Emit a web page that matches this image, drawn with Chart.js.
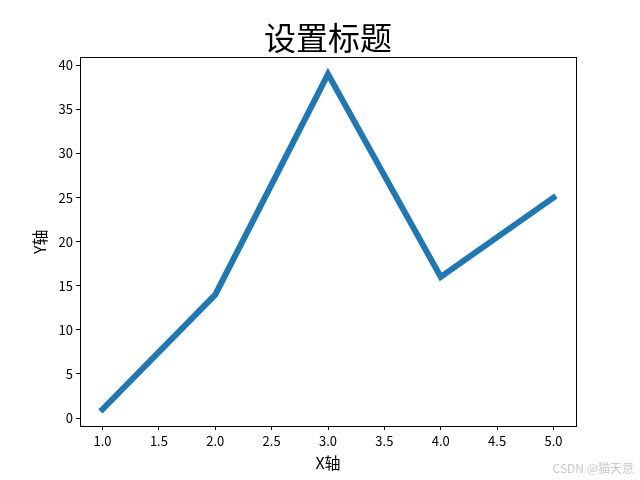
<!DOCTYPE html>
<html>
<head>
<meta charset="utf-8">
<script src="https://cdn.jsdelivr.net/npm/chart.js@4/dist/chart.umd.min.js"></script>
<style>
  html, body { margin: 0; padding: 0; background: #fff; }
  #wrap { width: 640px; height: 480px; }
</style>
</head>
<body>
<div id="wrap"><canvas id="c" width="640" height="480"></canvas></div>
<script>
const xValues = [1, 2, 3, 4, 5];
const yValues = [1, 14, 39, 16, 25];
const xTicks = [1.0, 1.5, 2.0, 2.5, 3.0, 3.5, 4.0, 4.5, 5.0];
const yTicks = [0, 5, 10, 15, 20, 25, 30, 35, 40];

const CJK = "'Noto Sans CJK SC', 'DejaVu Sans', sans-serif";
const TICK_FONT = "'Liberation Sans Narrow', 'Noto Sans CJK SC', sans-serif";

// Frame around the plot area + watermark
const framePlugin = {
    id: 'frame',
    afterDraw(chart) {
        const { ctx, chartArea: a } = chart;
        ctx.save();
        ctx.strokeStyle = '#000';
        ctx.lineWidth = 1;
        ctx.strokeRect(Math.round(a.left) + 0.5, Math.round(a.top) + 0.5,
            Math.round(a.right - a.left), Math.round(a.bottom - a.top));
        ctx.fillStyle = '#c8c8c8';
        ctx.font = "12px " + CJK;
        ctx.textAlign = 'right';
        ctx.textBaseline = 'middle';
        ctx.fillText('CSDN @猫天意', 634, 468);
        ctx.restore();
    }
};

new Chart(document.getElementById('c'), {
    type: 'line',
    data: {
        datasets: [{
            data: xValues.map((x, i) => ({ x, y: yValues[i] })),
            borderColor: '#1f77b4',
            borderWidth: 6,
            borderCapStyle: 'square',
            borderJoinStyle: 'miter',
            pointRadius: 0,
            tension: 0,
            fill: false
        }]
    },
    options: {
        responsive: false,
        animation: false,
        layout: { padding: { left: 0, right: 64, top: 0, bottom: 0 } },
        plugins: {
            legend: { display: false },
            tooltip: { enabled: false },
            title: {
                display: true,
                fullSize: false, // center over the plot area, like matplotlib
                text: '设置标题',
                color: '#000',
                font: { family: CJK, size: 32, weight: 'normal', lineHeight: 1.2 },
                padding: { top: 19, bottom: 0 }
            }
        },
        scales: {
            x: {
                type: 'linear',
                min: 0.8,
                max: 5.2,
                afterBuildTicks: s => { s.ticks = xTicks.map(v => ({ value: v })); },
                afterFit: s => { s.height = 54; },
                border: { display: false },
                grid: { drawOnChartArea: false, tickLength: 4, color: '#000', tickColor: '#000' },
                ticks: {
                    color: '#000',
                    padding: 3,
                    maxRotation: 0,
                    font: { family: TICK_FONT, size: 13 },
                    callback: v => v.toFixed(1)
                },
                title: {
                    display: true,
                    text: 'X轴',
                    color: '#000',
                    font: { family: CJK, size: 16 },
                    padding: { top: 0, bottom: 7 }
                }
            },
            y: {
                min: -0.9,
                max: 40.9,
                afterBuildTicks: s => { s.ticks = yTicks.map(v => ({ value: v })); },
                afterFit: s => { s.width = 80; },
                border: { display: false },
                grid: { drawOnChartArea: false, tickLength: 4, color: '#000', tickColor: '#000' },
                ticks: {
                    color: '#000',
                    padding: 3,
                    font: { family: TICK_FONT, size: 13 }
                },
                title: {
                    display: true,
                    text: 'Y轴',
                    color: '#000',
                    font: { family: CJK, size: 16 },
                    padding: { top: 30, bottom: 0 }
                }
            }
        }
    },
    plugins: [framePlugin]
});
</script>
</body>
</html>
